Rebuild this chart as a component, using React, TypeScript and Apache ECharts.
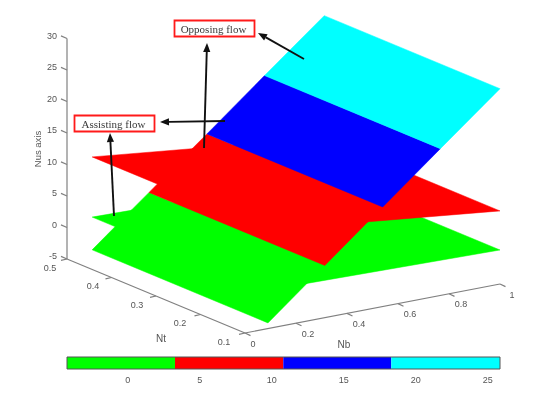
import React, { useEffect, useRef } from "react";
import * as echarts from "echarts";

// --- data ---
const nusTicks = [-5, 0, 5, 10, 15, 20, 25, 30];
const ntTicks = [0.5, 0.4, 0.3, 0.2, 0.1];
const ntLabelShift = [-17, -18.5, -19, -20.5, -21];
const nbTicks = [0, 0.2, 0.4, 0.6, 0.8, 1];
const colorbarTicks = [0, 5, 10, 15, 20, 25];
const colorbarLevels = [-4.22, 3.28, 10.8, 18.3, 25.85];
const bandColors = ["#00ff00", "#ff0000", "#0000ff", "#00ffff"];

const ntRange = [0.1, 0.495];
const nbRange = [0.09, 1];
// sloped surface: Nus against Nb, split where colour bands and other sheets cross it
const slopeNb = [0.09, 0.2435, 0.313, 0.482, 0.54, 0.766, 1];
const slopeNus = [-4.1, 1, 3.28, 8.9, 10.8, 18.3, 26];
const assistingNus = [1.1, 0.4]; // at nbRange ends
const opposingNus = [10.65, 6.6]; // at nbRange ends

// --- oblique view of the 3D box ---
const project = (nb: number, nt: number, nus: number): [number, number] => [
  245 + 255 * nb - 445 * (nt - 0.1),
  333 - 49 * nb - 185 * (nt - 0.1) - 6.3 * (nus + 5),
];

type Vertex = [number, number, number];
type Poly = { pts: Vertex[]; color: string };

const strip = (i: number): Poly => ({
  color: bandColors[slopeNus[i + 1] <= colorbarLevels[1] ? 0 : slopeNus[i + 1] <= colorbarLevels[2] ? 1 : slopeNus[i + 1] <= colorbarLevels[3] ? 2 : 3],
  pts: [
    [slopeNb[i], ntRange[0], slopeNus[i]],
    [slopeNb[i + 1], ntRange[0], slopeNus[i + 1]],
    [slopeNb[i + 1], ntRange[1], slopeNus[i + 1]],
    [slopeNb[i], ntRange[1], slopeNus[i]],
  ],
});
const flat = (z: number[], color: string): Poly => ({
  color,
  pts: [
    [nbRange[0], ntRange[0], z[0]],
    [nbRange[1], ntRange[0], z[1]],
    [nbRange[1], ntRange[1], z[1]],
    [nbRange[0], ntRange[1], z[0]],
  ],
});
// back to front
const polys: Poly[] = [
  strip(0),
  flat(assistingNus, bandColors[0]),
  strip(1),
  strip(2),
  flat(opposingNus, bandColors[1]),
  strip(3),
  strip(4),
  strip(5),
];

const axisColor = "#808080";
const textColor = "#555";
const sans = "'Liberation Sans', Arial, sans-serif";

type Seg = { a: Vertex; tick: [number, number]; label: string; off: [number, number]; align?: string };
const nbAt = (v: number): Vertex => [v, 0.1, -5];
const ntAt = (v: number): Vertex => [0, v, -5];
const zAt = (v: number): Vertex => [0, 0.5, v];

const arrow = (x1: number, y1: number, x2: number, y2: number) => {
  const ang = Math.atan2(y2 - y1, x2 - x1);
  const L = 9, W = 3.6;
  const bx = x2 - L * Math.cos(ang), by = y2 - L * Math.sin(ang);
  const nx = -Math.sin(ang) * W, ny = Math.cos(ang) * W;
  return [
    { type: "line", z: 100, shape: { x1, y1, x2: bx, y2: by }, style: { stroke: "#111", lineWidth: 1.9 } },
    { type: "polygon", z: 100, shape: { points: [[x2, y2], [bx + nx, by + ny], [bx - nx, by - ny]] }, style: { fill: "#111" } },
  ];
};
const callout = (x: number, y: number, w: number, h: number, text: string) => [
  { type: "rect", z: 100, shape: { x, y, width: w, height: h }, style: { fill: "#fff", stroke: "#ff1a1a", lineWidth: 1.8 } },
  {
    type: "text", z: 101, x: x + w / 2 - 1, y: y + h / 2,
    style: { text, fill: "#3a3a3a", font: "11px 'Liberation Serif', serif", align: "center", verticalAlign: "middle" },
  },
];

export default function App() {
  const ref = useRef<HTMLDivElement>(null);
  useEffect(() => {
    document.body.style.margin = "0";
    const chart = echarts.init(ref.current!, undefined, { renderer: "svg" });
    const segs: Seg[] = [];
    nusTicks.forEach((v) => segs.push({ a: zAt(v), tick: [-6, -2.6], label: String(v), off: [-10, -3], align: "right" }));
    ntTicks.forEach((v, i) => segs.push({ a: ntAt(v), tick: [-6, 1.3], label: v.toFixed(1), off: [ntLabelShift[i], 8.7] }));
    nbTicks.forEach((v) => segs.push({ a: nbAt(v), tick: [5.5, 2.6], label: String(v), off: [v === 0 ? 8 : 12, 10.5] }));

    chart.setOption({
      animation: false,
      backgroundColor: "#fff",
      grid: [
        { left: 0, top: 0, width: 547, height: 409, show: false },
        { left: 67, top: 357, width: 433, height: 12, show: true, borderColor: "#555", borderWidth: 1, z: 5 },
      ],
      xAxis: [
        { type: "value", gridIndex: 0, min: 0, max: 547, show: false },
        {
          type: "value", gridIndex: 1, min: colorbarLevels[0], max: colorbarLevels[4],
          splitLine: { show: false },
          axisLine: { show: false },
          axisTick: { show: true, inside: true, length: 2, customValues: colorbarTicks, lineStyle: { color: "#333" } },
          axisLabel: { customValues: colorbarTicks, color: textColor, fontSize: 9, fontFamily: sans, margin: 6, showMinLabel: true, showMaxLabel: true },
        },
      ],
      yAxis: [
        { type: "value", gridIndex: 0, min: 0, max: 409, inverse: true, show: false },
        { type: "value", gridIndex: 1, min: 0, max: 1, show: false },
      ],
      series: [
        {
          type: "custom", xAxisIndex: 0, yAxisIndex: 0, clip: false, z: 2,
          data: [[0]],
          renderItem: (_: any, api: any) => {
            const c = (v: Vertex) => api.coord(project(v[0], v[1], v[2]));
            const line = (p: number[], q: number[]) => ({
              type: "line", shape: { x1: p[0], y1: p[1], x2: q[0], y2: q[1] },
              style: { stroke: axisColor, lineWidth: 1.2 },
            });
            const children: any[] = [
              line(c(zAt(30)), c(zAt(-5))),
              line(c(ntAt(0.5)), c(ntAt(0.1))),
              line(c(nbAt(0)), c(nbAt(1))),
            ];
            segs.forEach((s) => {
              const p = c(s.a);
              children.push(line(p, [p[0] + s.tick[0], p[1] + s.tick[1]]));
              children.push({
                type: "text", x: p[0] + s.off[0], y: p[1] + s.off[1],
                style: { text: s.label, fill: textColor, font: `9px ${sans}`, align: s.align || "center", verticalAlign: "middle" },
              });
            });
            const title = (text: string, x: number, y: number, rotation = 0) => ({
              type: "text", x, y, rotation,
              style: { text, fill: textColor, font: `${rotation ? 9.5 : 10}px ${sans}`, align: "center", verticalAlign: "middle" },
            });
            children.push(title("Nus axis", 37, 149, Math.PI / 2));
            children.push(title("Nt", 161, 338));
            children.push(title("Nb", 344, 344));
            return { type: "group", children };
          },
        },
        {
          type: "custom", xAxisIndex: 0, yAxisIndex: 0, clip: false, z: 3,
          data: polys.map((_, i) => [i]),
          renderItem: (params: any, api: any) => {
            const p = polys[params.dataIndex];
            return {
              type: "polygon",
              shape: { points: p.pts.map((v) => api.coord(project(v[0], v[1], v[2]))) },
              style: { fill: p.color, stroke: p.color, lineWidth: 0.5 },
            };
          },
        },
        {
          type: "custom", xAxisIndex: 1, yAxisIndex: 1, z: 3,
          data: bandColors.map((_, i) => [colorbarLevels[i], colorbarLevels[i + 1]]),
          renderItem: (params: any, api: any) => {
            const a = api.coord([api.value(0), 0]);
            const b = api.coord([api.value(1), 1]);
            return {
              type: "rect",
              shape: { x: a[0], y: b[1], width: b[0] - a[0], height: a[1] - b[1] },
              style: { fill: bandColors[params.dataIndex] },
            };
          },
        },
      ],
      graphic: [
        ...arrow(304, 59, 258, 33),
        ...arrow(204, 148, 207, 43),
        ...arrow(225, 121, 160, 122),
        ...arrow(114, 216, 110, 133),
        ...callout(174.5, 20.5, 80, 16, "Opposing flow"),
        ...callout(74.5, 115.5, 80, 16, "Assisting flow"),
      ],
    });
    return () => chart.dispose();
  }, []);
  return (
    <div
      ref={ref}
      style={{ position: "absolute", left: 0, top: 0, width: 547, height: 409, filter: "blur(0.5px)" }}
    />
  );
}
